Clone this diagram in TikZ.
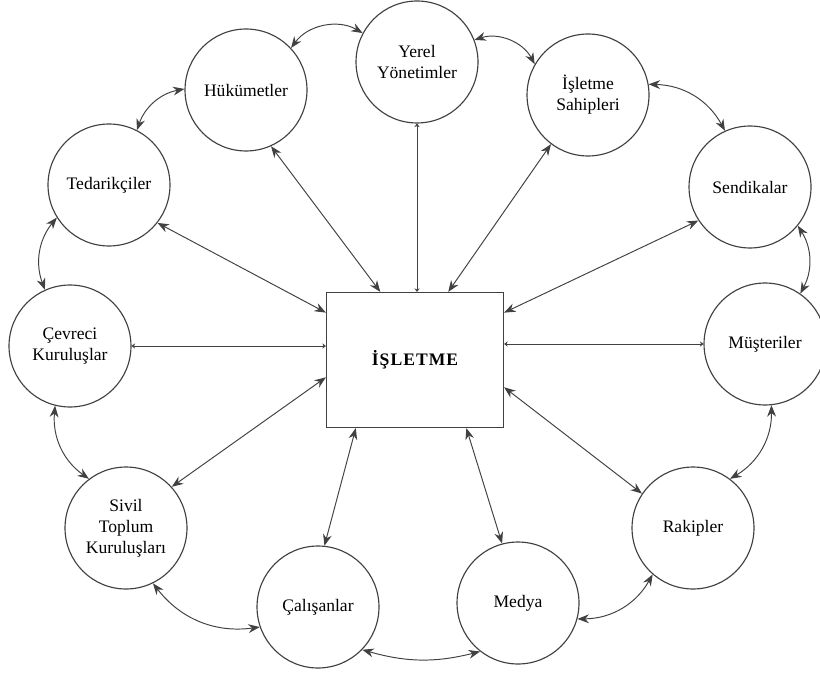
\documentclass[tikz,border=0pt]{standalone}
\usepackage{fontspec}
\setmainfont{Liberation Serif}
\usetikzlibrary{arrows.meta, calc}
\definecolor{cizgi}{RGB}{65,65,65}

\begin{document}
\begin{tikzpicture}[x=0.02cm, y=-0.02cm, >={Stealth[length=6.5pt,width=5pt]},
        paydas/.style={circle, draw=cizgi, line width=0.65pt, minimum size=2.44cm, inner sep=0pt, align=center, font=\normalsize},
        baglanti/.style={cizgi, line width=0.55pt, <->},
        kucuk/.style={cizgi, line width=0.55pt, {Stealth[length=2pt,width=3pt]}-{Stealth[length=2pt,width=3pt]}},
        komsu/.style={cizgi, line width=0.55pt, <->, bend left=30}]
        \useasboundingbox (0,0) rectangle (820,675);

        % İşletme
        \node[draw=cizgi, line width=0.7pt, minimum width=3.54cm, minimum height=2.7cm,
              font={\bfseries\addfontfeatures{LetterSpace=6}}] (isletme) at (415,360) {İŞLETME};

        % Paydaşlar
        \node[paydas] (hukumet) at (246,90) {Hükümetler};
        \node[paydas] (yerel) at (417,62) {Yerel\\Yönetimler};
        \node[paydas] (sahip) at (588,95) {İşletme\\Sahipleri};
        \node[paydas] (sendika) at (750,187) {Sendikalar};
        \node[paydas] (musteri) at (765,344) {Müşteriler};
        \node[paydas] (rakip) at (693,528) {Rakipler};
        \node[paydas] (medya) at (518,603) {Medya};
        \node[paydas] (calisan) at (318,607) {Çalışanlar};
        \node[paydas] (sivil) at (126,528) {Sivil\\Toplum\\Kuruluşları};
        \node[paydas] (cevre) at (70,346) {Çevreci\\Kuruluşlar};
        \node[paydas] (tedarik) at (109,185) {Tedarikçiler};

        % İşletme ile bağlantılar
        \draw[baglanti] (hukumet.-66) -- (isletme.117);
        \draw[kucuk] (yerel.south) -- (yerel.south |- isletme.north);
        \draw[baglanti] (sahip.-127) -- (isletme.64);
        \draw[baglanti] (sendika.213) -- (isletme.28);
        \draw[kucuk] (musteri.west) -- (musteri.west -| isletme.east);
        \draw[baglanti] (rakip.146) -- (isletme.-17);
        \draw[baglanti] (medya.105) -- (isletme.-53);
        \draw[baglanti] (calisan.84) -- (isletme.-131);
        \draw[baglanti] (sivil.42) -- (isletme.191);
        \draw[kucuk] (cevre.east) -- (cevre.east -| isletme.west);
        \draw[baglanti] (tedarik.-38) -- (isletme.152);

        % Komşu paydaşlar
        \draw[komsu] (tedarik.63) to (hukumet.179);
        \draw[komsu, bend left=42] (hukumet.43) to (yerel.152);
        \draw[komsu, bend left=40] (yerel.21) to (sahip.150);
        \draw[komsu] (sahip.10) to (sendika.114);
        \draw[komsu] (sendika.-39) to (musteri.55);
        \draw[komsu] (musteri.-84) to (rakip.53);
        \draw[komsu] (rakip.-131) to (medya.-15);
        \draw[komsu, bend left=15] (medya.-128) to (calisan.-44);
        \draw[komsu] (calisan.-161) to (sivil.-64);
        \draw[komsu] (sivil.127) to (cevre.-104);
        \draw[komsu] (cevre.114) to (tedarik.-148);
\end{tikzpicture}
\end{document}
